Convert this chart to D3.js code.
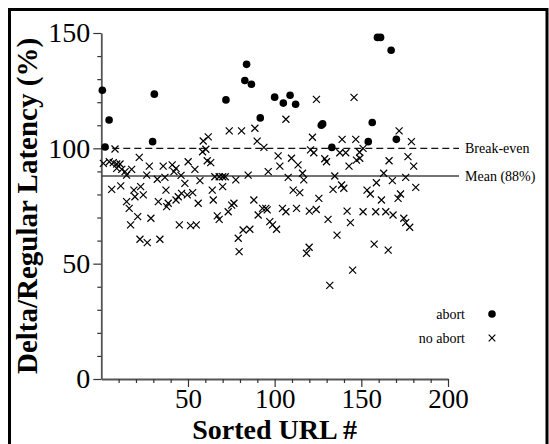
<!DOCTYPE html>
<html>
<head>
<meta charset="utf-8">
<script src="https://cdn.jsdelivr.net/npm/d3@7"></script>
<style>
  html, body { margin: 0; padding: 0; background: #fff; }
  svg { display: block; font-family: 'Liberation Serif', 'Times New Roman', serif; }
</style>
</head>
<body>
<div id="chart"></div>
<script>
// points that aborted: [url #, delta/regular latency %]
const abortPoints = [
  [0.6, 125.2], [2.2, 100.6], [4.5, 112.3], [29.6, 102.9], [30.6, 123.5],
  [71.9, 121], [82.8, 129.4], [83.8, 136.4], [86.6, 127.8], [91.7, 113.2],
  [100, 122.2], [105, 119.6], [108.9, 123], [112.1, 119.1], [126.9, 110],
  [127.7, 110.6], [133, 100.4], [154, 102.9], [156.3, 111.2], [159.3, 148.1],
  [161.1, 148.1], [167.2, 142.5], [170.2, 103.9]
]

// points that did not abort
const noAbortPoints = [
  [1.2, 93.5], [4.6, 94.2], [6.9, 93.8], [7.9, 99.7], [8.9, 93.2], [10.8, 93.2],
  [8.9, 91.3], [11.8, 90.9], [13.7, 89.9], [14.6, 88.4], [17.5, 90.9], [21.9, 96.1],
  [6.0, 82.2], [11.2, 83.7], [14.6, 76.9], [16.1, 74.0], [16.9, 66.8], [18.8, 81.9],
  [19.4, 79.0], [21.0, 70.4], [22.7, 83.4], [24.2, 79.8], [22.3, 60.6], [26.5, 59.1],
  [27.7, 92.3], [26.2, 88.4], [28.6, 69.7], [33.8, 60.6], [32.9, 76.9], [32.3, 86.6],
  [35.7, 92.3], [36.7, 87.4], [37.3, 81.9], [38.6, 76.2], [37.7, 74.7], [40.9, 92.8],
  [43.1, 91.3], [41.9, 89.9], [46.0, 88.3], [44.4, 79.0], [46.3, 80.5], [43.1, 77.6],
  [45.0, 66.8], [50.1, 94.2], [51.5, 66.5], [54.8, 66.8],
  [58.8, 103.2], [58.4, 98.5], [60.3, 99.6], [61.7, 105], [54.0, 90.9], [61.1, 94.6],
  [63.1, 93.8], [56.9, 86.0], [48.2, 84.8], [52.7, 80.8], [49.6, 79.8], [55.9, 76.2],
  [64.0, 81.9], [64.6, 77.6], [65.5, 87.7], [68.0, 87.7], [70.0, 87.7], [71.5, 87.7],
  [70.0, 83.4], [66.9, 70.7], [68.0, 69.2], [73.2, 72.5], [75.2, 75.4], [76.5, 76.2],
  [77.6, 86.3], [79.0, 61.0], [79.5, 55.2], [81.8, 64.6], [85.7, 64.9], [84.7, 88.4],
  [88.0, 77.6], [90.5, 71.1], [93.0, 74.0], [94.9, 74.0], [95.7, 73.3], [96.3, 89.9],
  [89.9, 103.1], [93.8, 100.4], [97.2, 68.2], [98.8, 66.8], [101.1, 64.9], [102.0, 96.7],
  [103.0, 92.3], [104.5, 74.0], [106.5, 72.5], [107.8, 87.4], [109.7, 95.7], [113.5, 92.8],
  [110.7, 81.9], [114.5, 80.8], [112.6, 74.0], [116.8, 86.3], [116.1, 89.2], [73.8, 107.6],
  [80.9, 107.6], [88.6, 108.7], [106.5, 112.6],
  [120, 72.8], [124, 73.5], [118.4, 54.5], [119.9, 57.1], [120.7, 99.3], [122.6, 98.1],
  [121.8, 104.8], [124.1, 121.2], [125.5, 78.3], [128.9, 95.5], [129.9, 94.2], [137.6, 98.1],
  [141, 98.1], [142.9, 92.3], [147.2, 94.9], [149.1, 95.7], [149, 98.3], [151, 100],
  [166, 94.6], [176.9, 96.4], [180.2, 92.3], [134.7, 88], [133.7, 82.2], [138.6, 84.1],
  [139.9, 82.7], [130.8, 69.2], [136, 62.4], [143.7, 67.8], [141.8, 72.8], [145, 47.2],
  [131.8, 40.6], [153.3, 81.9], [155.2, 80.2], [151, 72.5], [158.3, 72.5], [158.7, 85.1],
  [162.9, 89.2], [167.9, 86], [161.6, 77.6], [164.1, 72.5], [168.3, 71.1], [171.2, 78.3],
  [172.6, 80.2], [174.5, 69.7], [175.6, 67.8], [177.9, 65.8], [175.6, 87.4], [181.4, 83.1],
  [157.4, 58.5], [165.5, 55.9], [145.8, 122.1], [171.8, 107.6], [138.9, 103.9], [146.8, 103.9],
  [178.9, 102.9]
]

const xTicks = d3.range(10, 201, 10)
const yTicks = d3.range(0, 151, 10)
const xLabels = [50, 100, 150, 200]
const yLabels = [0, 50, 100, 150]

const breakEven = 100
const meanValue = 88
const refLabels = ['Break-even', 'Mean (88%)']
const legendLabels = ['abort', 'no abort']

const width = 549
const height = 444

const svg = d3.select('#chart')
  .append('svg')
  .attr('width', width)
  .attr('height', height)

// frame around the figure (no bottom edge, it is cut off)
svg.append('path')
  .attr('d', `M9.5,${height} V9.5 H547 V${height}`)
  .attr('fill', 'none')
  .attr('stroke', '#000')
  .attr('stroke-width', 3)

const x = d3.scaleLinear().domain([0, 200]).range([101.3, 448])
const y = d3.scaleLinear().domain([0, 150]).range([379, 33])

// x axis
const xAxis = svg.append('g')
  .attr('transform', `translate(0,${y(0)})`)
  .call(d3.axisBottom(x)
    .tickValues(xTicks)
    .tickSizeOuter(0)
    .tickFormat(d => xLabels.includes(d) ? d : ''))

xAxis.select('.domain').attr('stroke', '#555').attr('stroke-width', 1.8)
xAxis.selectAll('.tick line')
  .attr('stroke', '#333')
  .attr('stroke-width', 1.2)
  .attr('y2', d => xLabels.includes(d) ? 8 : 4)
xAxis.selectAll('.tick text')
  .attr('y', 10)
  .attr('dy', '0.71em')
  .style('font-size', '27px')
  .style('font-family', 'Liberation Serif')
  .attr('fill', '#000')

// y axis
const yAxis = svg.append('g')
  .attr('transform', `translate(${x(0)},0)`)
  .call(d3.axisLeft(y)
    .tickValues(yTicks)
    .tickSizeOuter(0)
    .tickFormat(d => yLabels.includes(d) ? d : ''))

yAxis.select('.domain').attr('stroke', '#555').attr('stroke-width', 1.8)
yAxis.selectAll('.tick line')
  .attr('stroke', '#333')
  .attr('stroke-width', 1.2)
  .attr('x2', d => yLabels.includes(d) ? -8 : -4)
yAxis.selectAll('.tick text')
  .attr('x', -11)
  .style('font-size', '28px')
  .style('font-family', 'Liberation Serif')
  .attr('fill', '#000')

// reference lines
const lineEnd = 459
svg.append('line')
  .attr('x1', x(0)).attr('x2', lineEnd)
  .attr('y1', y(breakEven)).attr('y2', y(breakEven))
  .attr('stroke', '#111')
  .attr('stroke-width', 1.3)
  .attr('stroke-dasharray', '7,4')

svg.append('line')
  .attr('x1', x(0)).attr('x2', lineEnd)
  .attr('y1', y(meanValue)).attr('y2', y(meanValue))
  .attr('stroke', '#444')
  .attr('stroke-width', 1.6)

svg.selectAll('.ref-label')
  .data([breakEven, meanValue])
  .join('text')
  .attr('class', 'ref-label')
  .attr('x', 465)
  .attr('y', d => y(d))
  .attr('dy', '0.35em')
  .style('font-size', '14px')
  .text((d, i) => refLabels[i])

// markers
const crossPath = s => `M${-s},${-s}L${s},${s}M${-s},${s}L${s},${-s}`

svg.append('g')
  .selectAll('path')
  .data(noAbortPoints)
  .join('path')
  .attr('transform', d => `translate(${x(d[0])},${y(d[1])})`)
  .attr('d', crossPath(3.5))
  .attr('stroke', '#000')
  .attr('stroke-width', 1.2)
  .attr('fill', 'none')

svg.append('g')
  .selectAll('circle')
  .data(abortPoints)
  .join('circle')
  .attr('cx', d => x(d[0]))
  .attr('cy', d => y(d[1]))
  .attr('r', 3.8)
  .attr('fill', '#000')

// legend
const legend = svg.append('g')
legendLabels.forEach((label, i) => {
  const ly = 314 + i * 24
  legend.append('text')
    .attr('x', 465)
    .attr('y', ly)
    .attr('dy', '0.35em')
    .attr('text-anchor', 'end')
    .style('font-size', '14px')
    .text(label)
  if (i === 0) {
    legend.append('circle')
      .attr('cx', 492).attr('cy', ly).attr('r', 3.8)
      .attr('fill', '#000')
  } else {
    legend.append('path')
      .attr('transform', `translate(492,${ly})`)
      .attr('d', crossPath(3.3))
      .attr('stroke', '#000')
      .attr('stroke-width', 1.2)
  }
})

// axis titles
svg.append('text')
  .attr('x', (x(0) + x(200)) / 2)
  .attr('y', 439)
  .attr('text-anchor', 'middle')
  .style('font-size', '28px')
  .style('font-weight', 'bold')
  .text('Sorted URL #')

svg.append('text')
  .attr('transform', `translate(37,${(y(0) + y(150)) / 2}) rotate(-90)`)
  .attr('text-anchor', 'middle')
  .style('font-size', '29px')
  .style('font-weight', 'bold')
  .text('Delta/Regular Latency (%)')
</script>
</body>
</html>
